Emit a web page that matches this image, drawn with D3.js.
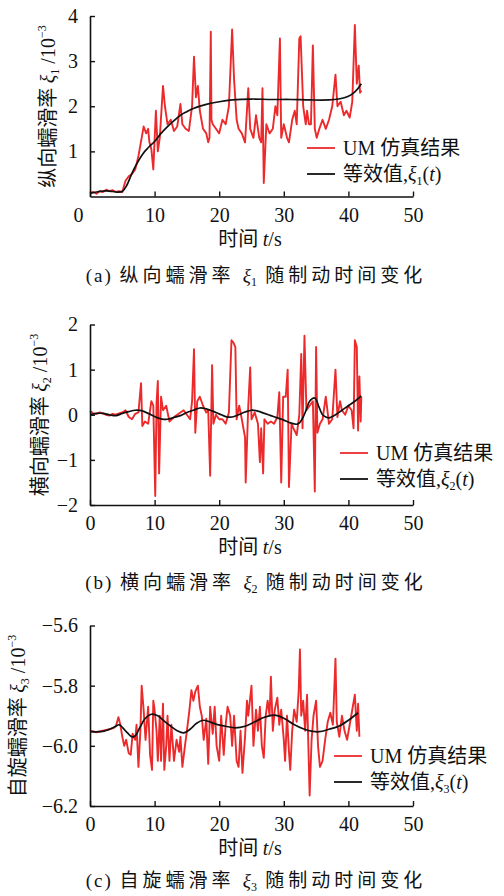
<!DOCTYPE html>
<html>
<head>
<meta charset="utf-8">
<script src="https://cdn.jsdelivr.net/npm/d3@7"></script>
<style>
  body { margin: 0; background: #fff; }
  svg { display: block; font-family: "Liberation Serif", "Noto Sans CJK SC", serif; }
</style>
</head>
<body>
<div id="chart-area"></div>
<script>
// ---- data (units of 10^-3) ----
var xTicks = [0, 10, 20, 30, 40, 50];

// (a) longitudinal creep
var timeA = [0,0.5,1,1.5,2,2.5,3,3.5,4,4.5,5,5.5,6,6.5,7,7.5,8,8.3,8.7,9,9.2,9.5,9.8,10.2,10.5,10.8,11.3,11.6,12,12.5,13,13.5,14,14.3,14.8,15.3,15.8,16.1,16.4,16.7,17,17.5,18,18.3,18.5,18.7,18.8,19,19.5,20,20.5,21,21.5,22,22.3,22.7,23,23.5,24,24.5,24.8,25.3,25.7,26.2,26.5,26.7,26.9,27.3,27.8,28.3,28.7,29,29.4,29.6,30,30.5,30.8,31.3,31.7,32,32.4,32.6,33,33.4,33.6,33.9,34.2,34.5,34.8,35.1,35.5,36,36.5,37,37.5,38,38.3,38.8,39.3,39.7,40.2,40.6,41,41.3,41.6,41.8,42];
var umA =   [0.08,0.1,0.06,0.12,0.1,0.15,0.12,0.14,0.1,0.12,0.1,0.35,0.45,0.5,0.6,0.9,1.3,1.55,1.4,1.5,1.2,1.05,0.6,1.9,1.0,1.3,2.45,2.0,1.6,1.7,1.45,1.55,2.05,1.6,1.5,1.45,2.0,3.1,2.2,2.45,1.9,1.5,1.4,1.2,1.3,3.65,1.7,1.6,1.5,1.4,1.7,1.6,2.0,3.7,2.6,1.7,1.5,1.4,1.2,2.4,1.5,1.3,1.8,1.3,1.2,2.4,0.3,1.6,1.4,1.5,2.0,1.8,3.5,1.3,1.6,1.3,1.2,1.7,1.9,1.6,3.5,3.55,2.0,1.6,1.9,1.6,1.6,3.35,1.5,1.3,1.5,1.7,1.5,1.7,2.0,2.7,2.0,2.1,1.8,1.9,1.75,2.1,3.8,2.5,2.9,2.3,2.35];
var fitTimeA = [0,1,2,3,4,5,5.7,6.7,8.2,9,10,11,12,13,14,15,16,18,20,22,25,28,31,34,37,38.5,40,41,42];
var fitA =     [0.07,0.1,0.12,0.12,0.1,0.11,0.25,0.58,0.95,1.08,1.22,1.4,1.55,1.68,1.8,1.88,1.95,2.04,2.1,2.14,2.16,2.15,2.15,2.14,2.14,2.16,2.22,2.32,2.5];

// (b) lateral creep
var timeB = [0,0.5,1,1.5,2,2.5,3,3.5,4,4.5,5,5.5,6,6.5,7,7.5,7.9,8.1,8.5,9,9.5,9.8,10.1,10.3,10.5,10.7,11,11.3,11.8,12.3,13,13.5,14,14.5,15,15.5,15.8,16.1,16.3,16.6,17,17.5,18,18.3,18.6,18.9,19.1,19.5,20,20.5,21,21.5,21.9,22.2,22.5,22.7,23.1,23.5,24,24.1,24.5,24.8,25,25.5,26,26.3,26.5,26.8,27,27.5,28,28.5,29,29.3,29.6,29.9,30.3,30.6,30.8,31.2,31.5,32,32.4,32.7,32.9,33.2,33.5,34,34.5,34.8,35,35.2,35.6,36,36.5,37,37.5,38,38.3,38.7,39,39.5,40,40.5,40.8,41,41.3,41.5,41.7,41.9,42];
var umB =   [0.08,0.03,0.02,0.05,0.03,0.0,-0.02,0.02,0.0,0.03,0.05,0.1,-0.05,-0.1,0.02,0.05,0.7,-0.25,-0.15,-0.2,0.3,0.2,-1.8,0.25,0.75,-1.3,0.4,0.1,0.2,-0.15,-0.05,0.0,0.05,0.1,0.0,-0.1,0.3,1.45,-0.4,0.3,0.4,0.2,0.05,0.1,-1.35,1.1,-0.2,0.0,-0.1,-0.1,-0.2,0.05,1.65,1.6,1.5,-0.1,0.2,-0.1,-0.5,-1.5,0.2,1.05,-0.1,0.05,-0.2,-1.05,-0.3,-1.3,-0.1,-0.2,-0.15,-0.2,-0.05,0.5,-1.5,0.4,0.4,1.0,-1.6,-0.2,-0.3,-0.45,0.0,1.35,-0.3,1.75,0.1,0.2,0.3,-1.7,1.5,-0.4,-0.2,-0.1,0.4,-0.2,-0.1,1.0,-0.05,0.3,0.1,0.0,0.2,0.1,-0.3,1.65,1.5,-0.35,0.85,-0.15,0.4];
var fitTimeB = [0,1,2,3,4,5,6,7,8,9,10,11,12,13,14,15,16,17,18,19,20,21,22,23,24,25,26,27,28,29,30,31,32,32.5,33,33.5,34,34.8,35.5,36,36.5,37,37.5,38,39,40,41,42];
var fitB =     [0.0,0.03,0.03,0.0,-0.02,0.03,0.07,0.1,0.09,0.03,-0.04,-0.09,-0.1,-0.06,-0.02,0.05,0.1,0.15,0.13,0.08,0.02,-0.04,-0.05,0.0,0.06,0.1,0.08,0.03,-0.02,-0.07,-0.12,-0.18,-0.21,-0.17,-0.05,0.12,0.3,0.37,0.15,0.0,-0.05,-0.07,-0.04,0.0,0.1,0.2,0.3,0.42];

// (c) spin creep
var timeC = [0,1,2,3,3.7,4,4.4,4.7,5,5.3,5.6,6,6.3,6.6,7,7.2,7.5,7.8,8,8.3,8.6,9,9.3,9.6,9.8,10,10.3,10.5,10.8,11,11.3,11.5,11.8,12,12.3,12.6,13,13.4,13.8,14,14.3,14.7,15,15.4,15.7,16,16.3,16.7,17,17.3,17.6,18,18.3,18.6,19,19.3,19.6,20,20.3,20.7,21,21.3,21.7,22,22.3,22.7,23,23.3,23.6,24,24.3,24.5,25,25.3,25.7,26,26.3,26.6,26.9,27.2,27.5,27.8,28,28.3,28.6,29,29.3,29.6,30,30.2,30.5,30.8,31,31.3,31.6,32,32.3,32.5,32.7,33,33.3,33.6,34,34.3,34.6,35,35.3,35.6,36,36.4,36.8,37.2,37.6,38,38.2,38.6,39,39.4,39.8,40.2,40.6,41,41.3,41.5,41.7];
var umC =   [-5.95,-5.955,-5.95,-5.945,-5.94,-5.935,-5.905,-5.93,-5.97,-6.0,-5.98,-6.025,-6.03,-5.96,-5.98,-5.93,-6.07,-5.95,-5.8,-5.88,-5.98,-5.87,-6.03,-6.08,-5.85,-5.88,-5.95,-6.05,-5.9,-6.05,-5.86,-6.08,-6.0,-5.9,-6.05,-5.93,-6.05,-5.98,-6.02,-5.97,-6.07,-6.0,-5.95,-5.88,-5.815,-5.85,-5.82,-5.8,-5.87,-5.9,-5.98,-5.91,-6.06,-5.87,-5.96,-5.87,-6.0,-6.05,-5.9,-6.03,-5.93,-5.87,-5.9,-6.0,-5.9,-6.05,-6.07,-5.95,-6.09,-5.97,-5.85,-5.9,-5.8,-6.0,-5.88,-5.95,-5.87,-6.0,-6.04,-5.9,-5.85,-5.9,-5.77,-5.95,-5.88,-5.84,-5.93,-5.88,-5.98,-6.05,-5.9,-6.02,-6.08,-5.95,-5.88,-5.92,-5.82,-5.68,-5.9,-5.85,-5.95,-5.83,-6.165,-5.98,-5.9,-5.85,-6.0,-6.07,-6.05,-5.98,-5.92,-5.89,-5.93,-5.71,-5.92,-5.97,-5.9,-5.95,-5.98,-5.93,-5.88,-5.83,-5.95,-5.86,-5.97];
var fitTimeC = [0,2,3,4,4.5,5.5,6.5,7,7.7,8.5,9.5,10.5,11.5,12.5,13.5,14.5,15.5,16.5,17.5,18.5,19.5,21,22.5,24,25.5,27,28.5,30,31.5,33,34.5,35.5,37,38.5,40,41.5];
var fitC =     [-5.953,-5.952,-5.945,-5.935,-5.93,-5.95,-5.97,-5.967,-5.94,-5.91,-5.895,-5.9,-5.918,-5.935,-5.95,-5.957,-5.945,-5.925,-5.915,-5.92,-5.928,-5.935,-5.94,-5.935,-5.92,-5.905,-5.898,-5.908,-5.928,-5.943,-5.952,-5.953,-5.945,-5.935,-5.915,-5.89];

var yTicksA = [1, 2, 3, 4];
var yTicksB = [-2, -1, 0, 1, 2];
var yTicksC = [-6.2, -6.0, -5.8, -5.6];

// ---- drawing ----
var W = 504, H = 896;
var svg = d3.select("#chart-area").append("svg")
  .attr("width", W).attr("height", H);

var RED = "#ec2a2c";
var fmtMinus = function (s) { return s.replace("-", "\u2212"); };

function panel(cfg) {
  var x = d3.scaleLinear().domain([0, 50]).range([90, 413]);
  var y = d3.scaleLinear().domain(cfg.domain).range([cfg.bottom, cfg.bottom - 180.5]);

  var g = svg.append("g");

  // lines
  var redLine = d3.line().x((d, i) => x(cfg.t[i])).y(d => y(d));
  g.append("path").datum(cfg.um)
    .attr("d", redLine)
    .attr("fill", "none").attr("stroke", RED).attr("stroke-width", 1.9)
    .attr("stroke-linejoin", "round");
  var fitLine = d3.line().curve(d3.curveCatmullRom.alpha(0.5))
    .x((d, i) => x(cfg.ft[i])).y(d => y(d));
  g.append("path").datum(cfg.fit)
    .attr("d", fitLine)
    .attr("fill", "none").attr("stroke", "#111").attr("stroke-width", 1.7);

  // axes
  var xAxis = d3.axisBottom(x).tickValues(xTicks).tickSizeInner(-5).tickSizeOuter(0)
    .tickPadding(11).tickFormat(d3.format("d"));
  var gx = g.append("g").attr("transform", "translate(0," + cfg.bottom + ")").call(xAxis);
  var yAxis = d3.axisLeft(y).tickValues(cfg.yTicks).tickSizeInner(-5).tickSizeOuter(0)
    .tickPadding(12).tickFormat(cfg.yFmt);
  var gy = g.append("g").attr("transform", "translate(90,0)").call(yAxis);
  [gx, gy].forEach(function (a) {
    a.select(".domain").attr("stroke", "#111").attr("stroke-width", 1.6);
    a.selectAll(".tick line").attr("stroke", "#111").attr("stroke-width", 1.4);
    a.selectAll("text").attr("font-family", "Liberation Serif").attr("font-size", 20).attr("fill", "#111");
  });
  if (cfg.shiftZero) {
    gx.selectAll(".tick").filter(d => d === 0).select("text").attr("x", -12);
  }

  // y title
  var yt = g.append("text")
    .attr("transform", "translate(" + cfg.ytX + "," + (cfg.bottom - 90) + ") rotate(-90)")
    .attr("text-anchor", "middle").attr("dy", "0.35em")
    .attr("font-size", 20).attr("fill", "#111");
  yt.append("tspan").attr("font-family", "Noto Sans CJK SC").text(cfg.yName + " ");
  yt.append("tspan").attr("font-style", "italic").text("\u03be");
  yt.append("tspan").attr("font-size", 12).attr("dy", 4).text(cfg.idx);
  yt.append("tspan").attr("dy", -4).text(" /10");
  yt.append("tspan").attr("font-size", 12).attr("dy", -9).text("\u22123");

  // x title
  var xt = g.append("text").attr("x", 250).attr("y", cfg.bottom + 49)
    .attr("text-anchor", "middle").attr("font-size", 20).attr("fill", "#111");
  xt.append("tspan").attr("font-family", "Noto Sans CJK SC").text("时间 ");
  xt.append("tspan").attr("font-style", "italic").text("t");
  xt.append("tspan").text("/s");

  // caption
  var cap = g.append("text").attr("x", 256).attr("y", cfg.bottom + cfg.capDy)
    .attr("text-anchor", "middle").attr("font-size", 19).attr("fill", "#111");
  cap.append("tspan").attr("letter-spacing", 2).text("(" + cfg.letter + ") ");
  cap.append("tspan").attr("font-family", "Noto Sans CJK SC").attr("letter-spacing", 4).text(cfg.yName + " ");
  cap.append("tspan").attr("font-style", "italic").text("\u03be");
  cap.append("tspan").attr("font-size", 12).attr("dy", 4).text(cfg.idx);
  cap.append("tspan").attr("dy", -4).attr("font-family", "Noto Sans CJK SC").attr("letter-spacing", 4).text(" 随制动时间变化");

  // legend
  var lg = g.append("g").attr("transform", "translate(" + cfg.lgX + "," + cfg.lgY + ")");
  lg.append("line").attr("x1", 0).attr("x2", 28).attr("y1", 0).attr("y2", 0)
    .attr("stroke", RED).attr("stroke-width", 1.8);
  lg.append("text").attr("x", 36).attr("y", 0).attr("dy", "0.35em")
    .attr("font-size", 20).attr("fill", "#111")
    .text("UM ").append("tspan").attr("font-family", "Noto Sans CJK SC").text("仿真结果");
  lg.append("line").attr("x1", 0).attr("x2", 28).attr("y1", 26).attr("y2", 26)
    .attr("stroke", "#111").attr("stroke-width", 1.8);
  var l2 = lg.append("text").attr("x", 36).attr("y", 26).attr("dy", "0.35em")
    .attr("font-size", 20).attr("fill", "#111");
  l2.append("tspan").attr("font-family", "Noto Sans CJK SC").text("等效值");
  l2.append("tspan").text(",");
  l2.append("tspan").attr("font-style", "italic").text("\u03be");
  l2.append("tspan").attr("font-size", 12).attr("dy", 4).text(cfg.idx);
  l2.append("tspan").attr("dy", -4).text("(");
  l2.append("tspan").attr("font-style", "italic").text("t");
  l2.append("tspan").text(")");
}

panel({ letter: "a", idx: "1", yName: "纵向蠕滑率", domain: [0, 4], bottom: 196.5,
  yTicks: yTicksA, yFmt: d3.format("d"), t: timeA, um: umA, ft: fitTimeA, fit: fitA,
  ytX: 48, lgX: 307, lgY: 148, shiftZero: true, capDy: 85 });
panel({ letter: "b", idx: "2", yName: "横向蠕滑率", domain: [-2, 2], bottom: 505,
  yTicks: yTicksB, yFmt: d => fmtMinus(d3.format("d")(d)), t: timeB, um: umB, ft: fitTimeB, fit: fitB,
  ytX: 40, lgX: 340, lgY: 453, capDy: 84 });
panel({ letter: "c", idx: "3", yName: "自旋蠕滑率", domain: [-6.2, -5.6], bottom: 806,
  yTicks: yTicksC, yFmt: d => fmtMinus(d3.format(".1f")(d)), t: timeC, um: umC, ft: fitTimeC, fit: fitC,
  ytX: 18, lgX: 334, lgY: 756, capDy: 81 });
</script>
</body>
</html>
